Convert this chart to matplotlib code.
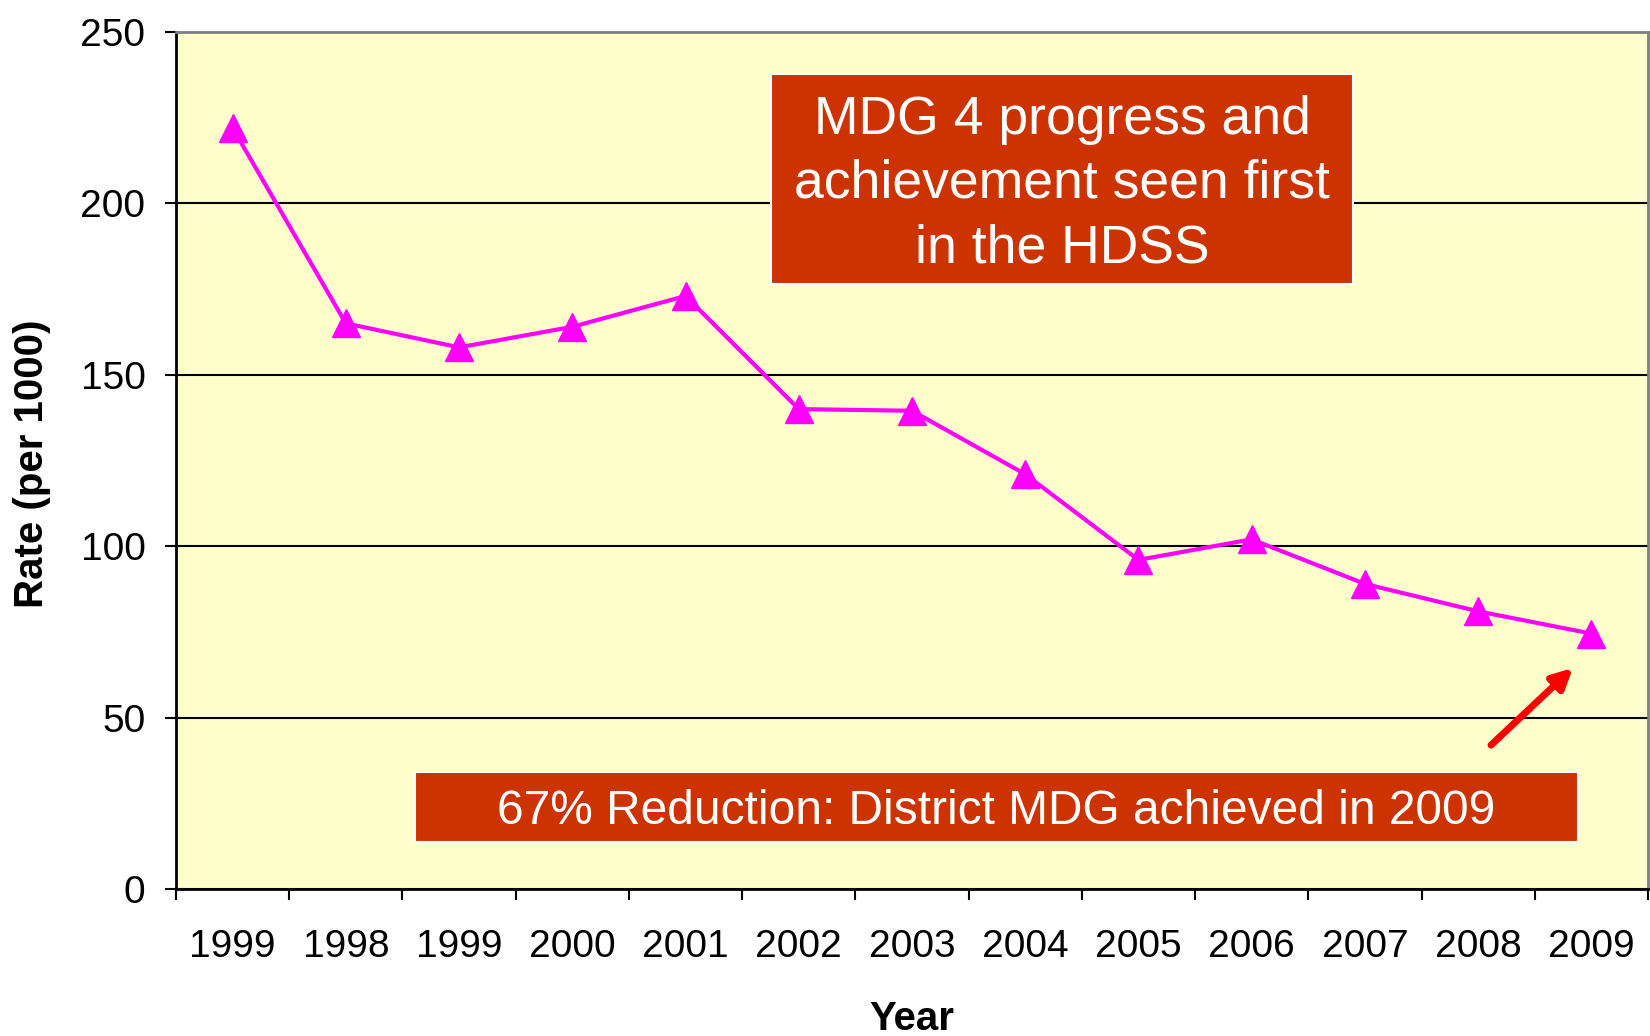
import numpy as np
import matplotlib.pyplot as plt
from matplotlib.patches import Rectangle, FancyArrowPatch

plt.rcParams['font.family'] = ['Liberation Sans', 'DejaVu Sans']

# datos
years = ['1999', '1998', '1999', '2000', '2001', '2002', '2003',
         '2004', '2005', '2006', '2007', '2008', '2009']
rate = [222, 165, 158, 164, 173, 140, 139.5, 121, 96, 102, 89, 81, 74.5]
box_top = 'MDG 4 progress and\nachievement seen first\nin the HDSS'
box_bottom = '67% Reduction: District MDG achieved in 2009'

fig = plt.figure(figsize=(16.5, 10.36), dpi=100)
ax = fig.add_axes([176/1650, 1-889/1036, 1472/1650, 857/1036])
ax.set_facecolor('#FFFFCC')

x = np.arange(len(years))
ax.plot(x, rate, color='#FF00FF', lw=3, marker='^', ms=20,
        mfc='#FF00FF', mec='#FF00FF', zorder=3)

ax.set_xlim(-0.5, len(years)-0.5)
ax.set_ylim(0, 250)
ax.set_yticks([0, 50, 100, 150, 200, 250])
ax.yaxis.grid(True, color='black', lw=1.5)
ax.set_axisbelow(True)

# etiquetas centradas, marcas en los bordes
ax.set_xticks(x)
ax.set_xticklabels(years)
ax.set_xticks(np.arange(len(years)+1)-0.5, minor=True)
ax.tick_params(axis='x', which='major', length=0, pad=29, labelsize=28)
ax.tick_params(axis='x', which='minor', length=8, width=1.5, direction='out')
ax.tick_params(axis='y', length=8, width=1.5, pad=14, labelsize=28)

for s in ['left', 'bottom']:
    ax.spines[s].set_color('black')
    ax.spines[s].set_linewidth(2)
for s in ['top', 'right']:
    ax.spines[s].set_color('#808080')
    ax.spines[s].set_linewidth(2)

fig.text(32/1650, 1-464/1036, 'Rate (per 1000)', rotation=90, fontsize=29,
         fontweight='bold', ha='center', va='center')
fig.text(912/1650, 1-1019/1036, 'Year', fontsize=29, fontweight='bold',
         ha='center', va='center')

# cuadros
fig.patches.append(Rectangle((771/1650, 1-284/1036), 582/1650, 210/1036,
                             transform=fig.transFigure, facecolor='#CC3300',
                             edgecolor='white', lw=1.5, zorder=5))
fig.text(1062/1650, 1-184/1036, box_top, color='white', fontsize=38.5,
         ha='center', va='center', linespacing=1.37, zorder=6)

fig.patches.append(Rectangle((415/1650, 1-842/1036), 1163/1650, 70/1036,
                             transform=fig.transFigure, facecolor='#CC3300',
                             edgecolor='white', lw=1.5, zorder=5))
fig.text(996/1650, 1-812/1036, box_bottom, color='white', fontsize=34.5,
         ha='center', va='center', zorder=6)

arr = FancyArrowPatch((1489/1650, 1-747/1036), (1575/1650, 1-666/1036),
                      transform=fig.transFigure, arrowstyle='-|>',
                      mutation_scale=30, color='#FF0000', lw=5, zorder=6)
fig.patches.append(arr)

plt.savefig('out.png')
